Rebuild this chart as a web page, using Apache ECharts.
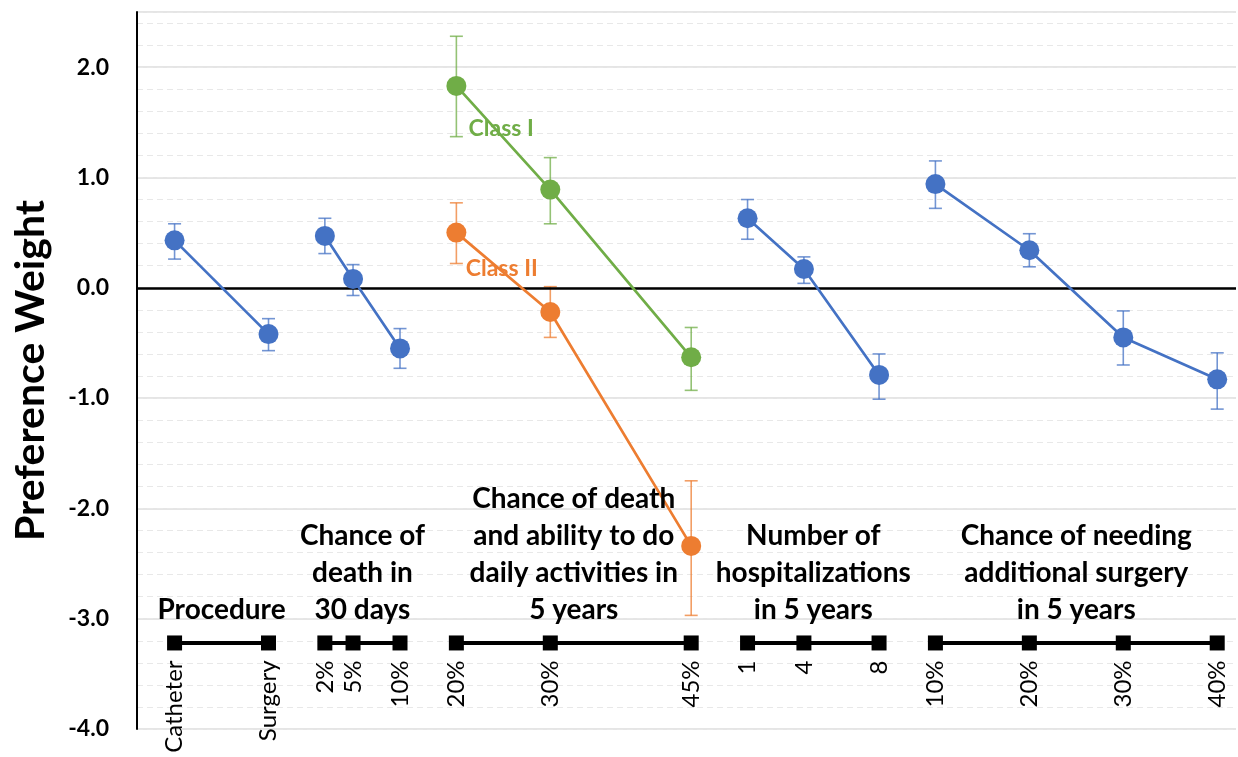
<!DOCTYPE html>
<html><head><meta charset="utf-8">
<script src="https://cdn.jsdelivr.net/npm/echarts@6/dist/echarts.min.js"></script>
<style>html,body{margin:0;padding:0;background:#fff}#c{width:1238px;height:757px}</style>
</head><body><div id="c"></div>
<script>
// ---- Attribute groups (titles) ----
const groupTitles = [
  'Procedure',
  'Chance of\ndeath in\n30 days',
  'Chance of death\nand ability to do\ndaily activities in\n5 years',
  'Number of\nhospitalizations\nin 5 years',
  'Chance of needing\nadditional surgery\nin 5 years'
];
// ---- Levels per attribute (label + position along the level axis) ----
const procLevels = ['Catheter', 'Surgery'];
const procX = [4, 14];
const death30Levels = ['2%', '5%', '10%'];
const death30X = [20, 23, 28];
const death5Levels = ['20%', '30%', '45%'];
const death5X = [34, 44, 59];
const hospLevels = ['1', '4', '8'];
const hospX = [65, 71, 79];
const surgLevels = ['10%', '20%', '30%', '40%'];
const surgX = [85, 95, 105, 115];

// ---- Preference weights (mean, lower CI, upper CI) ----
const procMean = [0.43, -0.42];
const procLow = [0.26, -0.57];
const procHigh = [0.58, -0.28];
const death30Mean = [0.47, 0.08, -0.55];
const death30Low = [0.31, -0.07, -0.73];
const death30High = [0.63, 0.21, -0.37];
const classIMean = [1.83, 0.89, -0.63];
const classILow = [1.37, 0.58, -0.93];
const classIHigh = [2.28, 1.18, -0.36];
const classIIMean = [0.50, -0.22, -2.34];
const classIILow = [0.22, -0.45, -2.97];
const classIIHigh = [0.77, 0.01, -1.75];
const hospMean = [0.63, 0.17, -0.79];
const hospLow = [0.44, 0.04, -1.01];
const hospHigh = [0.80, 0.28, -0.60];
const surgMean = [0.94, 0.34, -0.45, -0.83];
const surgLow = [0.72, 0.19, -0.70, -1.10];
const surgHigh = [1.15, 0.49, -0.21, -0.59];

const yTickLabels = ['-4.0', '-3.0', '-2.0', '-1.0', '0.0', '1.0', '2.0'];
const classNames = ['Class I', 'Class II'];

const BLUE = '#4472C4', GREEN = '#70AD47', ORANGE = '#ED7D31';
const FONT = 'Lato, "Open Sans", sans-serif';
const LEVEL_AXIS_Y = -3.22;
const TITLE_Y = -3.09;

function zip(xs, ys) { return xs.map((x, i) => [x, ys[i]]); }
function zip3(xs, lo, hi) { return xs.map((x, i) => [x, lo[i], hi[i]]); }

function lineSeries(xs, ys, color) {
  return {
    type: 'line', data: zip(xs, ys), symbol: 'circle', symbolSize: 20,
    itemStyle: { color: color, opacity: 1 }, lineStyle: { color: color, width: 2.7 },
    z: 5, silent: true, animation: false
  };
}
function errSeries(xs, lo, hi, color) {
  return {
    type: 'custom', data: zip3(xs, lo, hi), z: 3, silent: true, animation: false,
    renderItem: function (params, api) {
      const x = api.value(0);
      const pHi = api.coord([x, api.value(2)]);
      const pLo = api.coord([x, api.value(1)]);
      const w = 6.5;
      const st = { stroke: color, lineWidth: 1.6, opacity: 0.75 };
      return {
        type: 'group', children: [
          { type: 'line', shape: { x1: pHi[0], y1: pHi[1], x2: pLo[0], y2: pLo[1] }, style: st },
          { type: 'line', shape: { x1: pHi[0] - w, y1: pHi[1], x2: pHi[0] + w, y2: pHi[1] }, style: st },
          { type: 'line', shape: { x1: pLo[0] - w, y1: pLo[1], x2: pLo[0] + w, y2: pLo[1] }, style: st }
        ]
      };
    }
  };
}
function levelAxisSeries(xs, labels) {
  return {
    type: 'line', silent: true, animation: false, z: 4,
    data: xs.map((x, i) => ({ value: [x, LEVEL_AXIS_Y], name: labels[i] })),
    symbol: 'rect', symbolSize: 15,
    itemStyle: { color: '#000', opacity: 1 }, lineStyle: { color: '#000', width: 4 },
    label: {
      show: true, formatter: p => p.name, rotate: 90,
      position: [7.5, 25], align: 'right', verticalAlign: 'middle',
      fontFamily: FONT, fontSize: 24, color: '#000'
    }
  };
}

const groupsX = [procX, death30X, death5X, hospX, surgX];
const titleData = groupTitles.map((t, i) => {
  const xs = groupsX[i];
  return { value: [(xs[0] + xs[xs.length - 1]) / 2, TITLE_Y], name: t };
});

const chart = echarts.init(document.getElementById('c'), null, { renderer: 'canvas' });
chart.setOption({
  backgroundColor: '#fff',
  animation: false,
  grid: { left: 137, right: 2, top: 12, bottom: 28, containLabel: false },
  xAxis: {
    type: 'value', min: 0, max: 117, show: false
  },
  yAxis: [
    {
      type: 'value', min: -4, max: 2.5, interval: 1,
      axisLine: { show: true, onZero: false, lineStyle: { color: '#000', width: 2 } },
      axisTick: { show: false },
      axisLabel: {
        margin: 28, fontFamily: FONT, fontWeight: 'bold', fontSize: 23, color: '#000',
        formatter: v => yTickLabels[Math.round(v + 4)] !== undefined && Math.abs(v - Math.round(v)) < 1e-6 ? yTickLabels[Math.round(v + 4)] : ''
      },
      splitLine: { show: true, lineStyle: { color: '#dcdcdc', width: 1.5 } },
      name: 'Preference Weight', nameLocation: 'middle', nameGap: 86,
      nameTextStyle: { fontFamily: FONT, fontWeight: 'bold', fontSize: 41, color: '#000' }
    },
    {
      type: 'value', min: -4, max: 2.5, interval: 0.2, position: 'left',
      axisLine: { show: false }, axisTick: { show: false }, axisLabel: { show: false },
      splitLine: { show: true, lineStyle: { color: '#e8e8e8', width: 1.2, type: [6, 4] } }
    }
  ],
  series: [
    errSeries(procX, procLow, procHigh, BLUE),
    errSeries(death30X, death30Low, death30High, BLUE),
    errSeries(death5X, classILow, classIHigh, GREEN),
    errSeries(death5X, classIILow, classIIHigh, ORANGE),
    errSeries(hospX, hospLow, hospHigh, BLUE),
    errSeries(surgX, surgLow, surgHigh, BLUE),
    Object.assign(lineSeries(procX, procMean, BLUE), {
      markLine: {
        silent: true, symbol: 'none', animation: false,
        label: { show: false },
        lineStyle: { color: '#000', width: 2.5, type: 'solid' },
        data: [{ yAxis: 0 }]
      }
    }),
    lineSeries(death30X, death30Mean, BLUE),
    lineSeries(death5X, classIMean, GREEN),
    lineSeries(death5X, classIIMean, ORANGE),
    lineSeries(hospX, hospMean, BLUE),
    lineSeries(surgX, surgMean, BLUE),
    levelAxisSeries(procX, procLevels),
    levelAxisSeries(death30X, death30Levels),
    levelAxisSeries(death5X, death5Levels),
    levelAxisSeries(hospX, hospLevels),
    levelAxisSeries(surgX, surgLevels),
    {
      type: 'scatter', silent: true, animation: false, symbolSize: 0, z: 6,
      itemStyle: { opacity: 1 },
      data: titleData,
      label: {
        show: true, formatter: p => p.name, position: 'top', distance: 0,
        align: 'center', verticalAlign: 'bottom', lineHeight: 37,
        fontFamily: FONT, fontWeight: 'bold', fontSize: 28, color: '#000', opacity: 1
      }
    },
    {
      type: 'scatter', silent: true, animation: false, symbolSize: 0, z: 6,
      itemStyle: { opacity: 1 },
      data: [
        { value: [35.3, 1.44], name: classNames[0], label: { color: GREEN } },
        { value: [35.0, 0.17], name: classNames[1], label: { color: ORANGE } }
      ],
      label: {
        show: true, formatter: p => p.name, position: [0, 0],
        align: 'left', verticalAlign: 'middle', opacity: 1,
        fontFamily: FONT, fontWeight: 'bold', fontSize: 23
      }
    }
  ]
});
</script></body></html>
